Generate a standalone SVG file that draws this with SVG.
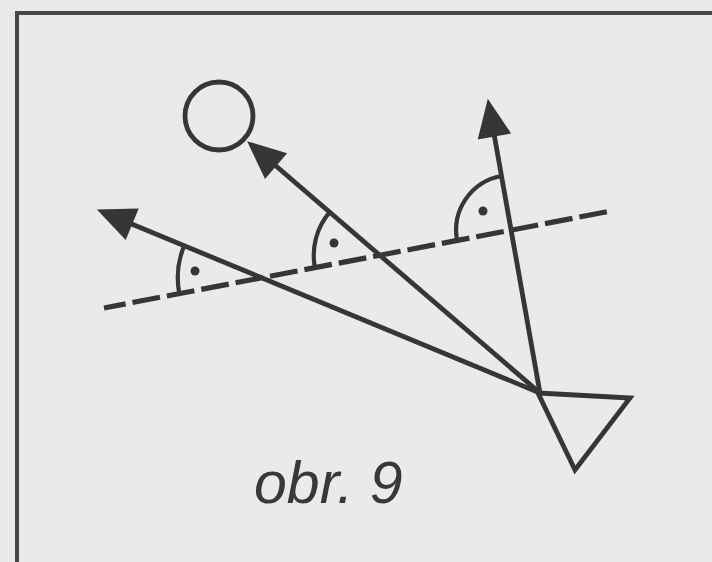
<svg xmlns="http://www.w3.org/2000/svg" width="712" height="562" viewBox="0 0 712 562">
  <style>
    .ln { stroke: #363636; stroke-width: 4.8; fill: none; }
    .arc { stroke: #363636; stroke-width: 4.2; fill: none; }
    .dash { stroke: #363636; stroke-width: 5.2; fill: none; stroke-dasharray: 28 7; stroke-dashoffset: 6; }
    .dot { fill: #363636; }
    .lbl { font-family: "Liberation Sans", Arial, sans-serif; font-style: italic; font-size: 59px; fill: #383838; }
  </style>
  <defs>
    <marker id="arr" markerUnits="userSpaceOnUse" markerWidth="40" markerHeight="34" viewBox="0 0 36 32" refX="16" refY="16" orient="auto">
      <path d="M0,0 L36,16 L0,32 Z" fill="#363636"/>
    </marker>
  </defs>
  <rect width="712" height="562" fill="#e9eaeb"/>
  <g id="frame">
    <path d="M17,562 V13 H712" stroke="#474747" stroke-width="4" fill="none"/>
  </g>
  <g id="reference-line">
    <line class="dash" x1="104" y1="308" x2="611" y2="211"/>
  </g>
  <g id="object-circle">
    <circle class="ln" cx="219" cy="116" r="34"/>
  </g>
  <g id="observer-triangle">
    <polygon class="ln" points="538,393 630,398 575,470" stroke-linejoin="miter"/>
  </g>
  <g id="connectors">
    <line class="ln" x1="540" y1="393" x2="116.5" y2="217.7" marker-end="url(#arr)"/>
    <line class="ln" x1="540" y1="393" x2="263.2" y2="155" marker-end="url(#arr)"/>
    <line class="ln" x1="540" y1="393" x2="491.5" y2="119.7" marker-end="url(#arr)"/>
  </g>
  <g id="angle-1">
    <path class="arc" d="M179.3,293.6 A84,84 0 0,1 184.2,245.7"/>
    <circle class="dot" cx="195" cy="271" r="4.5"/>
  </g>
  <g id="angle-2">
    <path class="arc" d="M314.9,267.6 A66,66 0 0,1 329.7,212.2"/>
    <circle class="dot" cx="334" cy="243" r="4.5"/>
  </g>
  <g id="angle-3">
    <path class="arc" d="M457.1,240.4 A55,55 0 0,1 501.5,176"/>
    <circle class="dot" cx="483" cy="211" r="4.5"/>
  </g>
  <g id="caption">
    <text class="lbl" x="254" y="503">obr. 9</text>
  </g>
</svg>
